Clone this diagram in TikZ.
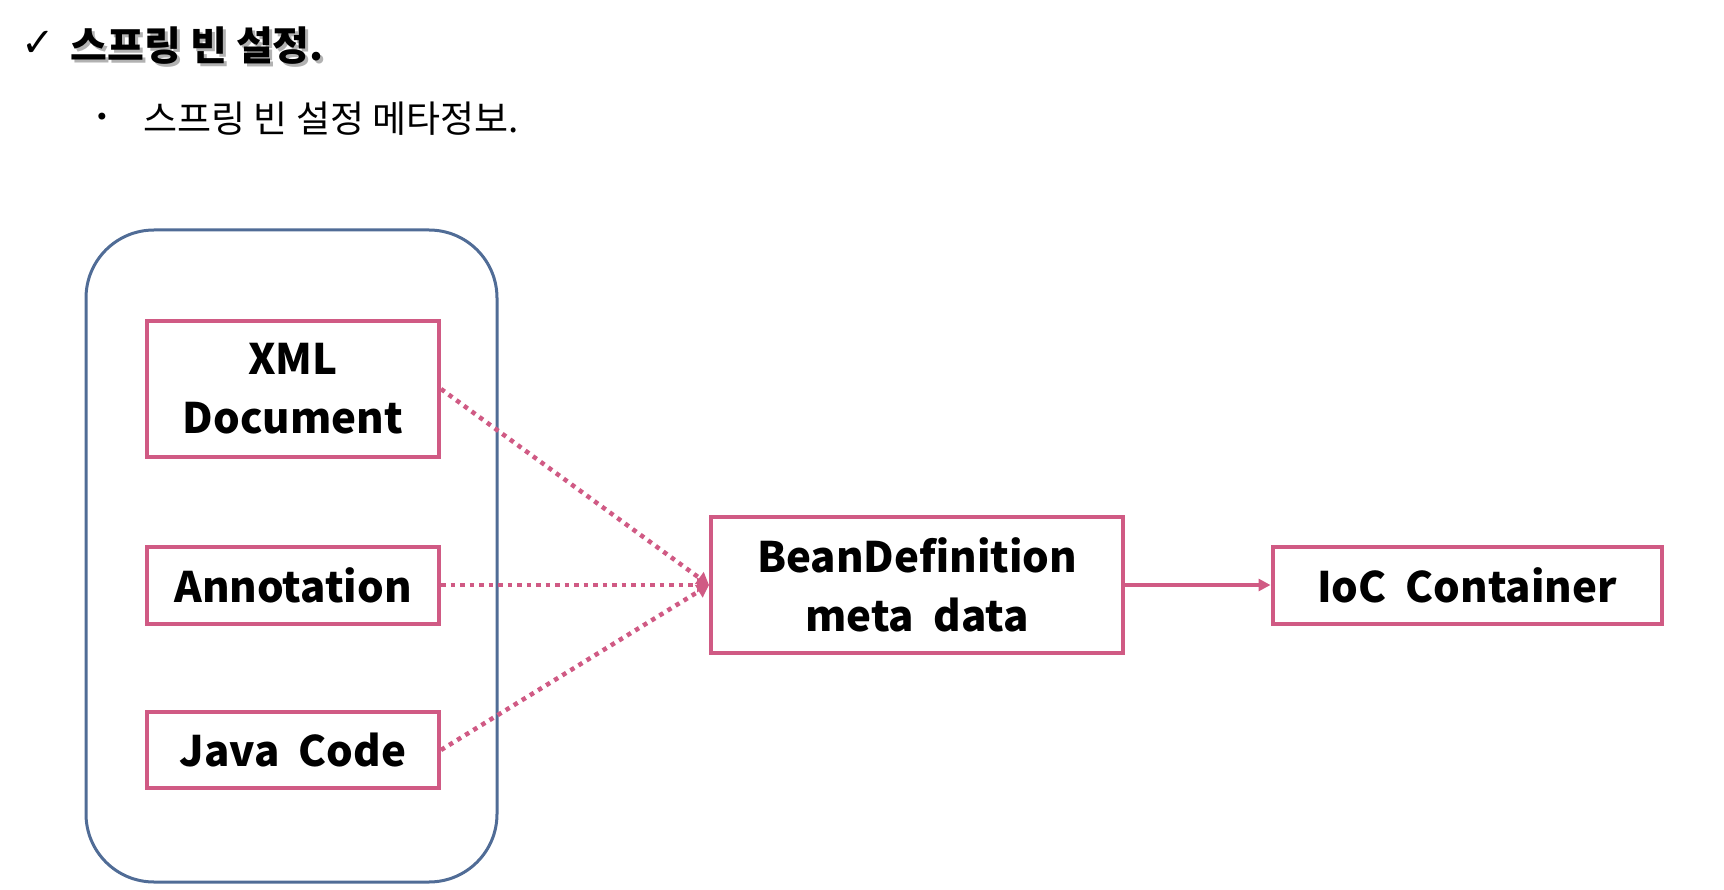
\documentclass[tikz,border=0pt]{standalone}
\usepackage{fontspec}
\setmainfont{Noto Sans CJK KR}
\newfontfamily\kr{Noto Sans CJK KR}
\newfontfamily\dv{DejaVu Sans}
\usetikzlibrary{arrows.meta}
\definecolor{pinkc}{RGB}{208,90,132}
\definecolor{bluec}{RGB}{80,108,150}
\tikzset{
  pbox/.style={draw=pinkc, line width=4pt, minimum width=292pt, align=center, font=\kr\bfseries\fontsize{42}{54}\selectfont, inner sep=0pt},
  dotline/.style={draw=pinkc, line width=4.5pt, dash pattern=on 4.5pt off 5pt, -{Triangle[length=12pt,width=14pt]}},
  solidline/.style={draw=pinkc, line width=3.5pt, -{Triangle[length=12pt,width=12pt]}}
}
\begin{document}
\begin{tikzpicture}[x=1pt,y=-1pt]
\useasboundingbox (0,0) rectangle (1724,890);
% title
\node[font=\dv\fontsize{40}{44}\selectfont, anchor=center] (chk) at (38,44) {✓};
\node[font=\kr\bfseries\fontsize{40}{44}\selectfont, anchor=west, text=black!30] (titlesh) at (70,49) {스프링 빈 설정.};
\node[font=\kr\bfseries\fontsize{40}{44}\selectfont, anchor=west] (title) at (67,46) {스프링 빈 설정.};
\node[font=\dv\fontsize{24}{28}\selectfont] (bul) at (102,119) {•};
\node[font=\kr\fontsize{37}{42}\selectfont, anchor=west] (sub) at (140,119) {스프링 빈 설정 메타정보.};
% outer
\draw[bluec, line width=3pt, rounded corners=68pt] (86,230) rectangle (497,882);
\node[pbox, minimum height=136pt] (xml) at (293,389) {XML\\[5pt]Document};
\node[pbox, minimum height=77pt] (ann) at (293,585) {Annotation};
\node[pbox, minimum height=76pt] (java) at (293,750) {Java\ \ Code};
\node[pbox, minimum width=412pt, minimum height=136pt] (bean) at (917,585) {BeanDefinition\\[5pt]meta\ \ data};
\node[pbox, minimum width=389pt, minimum height=77pt] (ioc) at (1467,585) {IoC\ \ Container};
\coordinate (conv) at (bean.west);
\draw[dotline] (xml.east) -- (conv);
\draw[dotline] (ann.east) -- (conv);
\draw[dotline] (java.east) -- (conv);
\draw[solidline] (bean.east) -- (ioc.west);
\end{tikzpicture}
\end{document}
